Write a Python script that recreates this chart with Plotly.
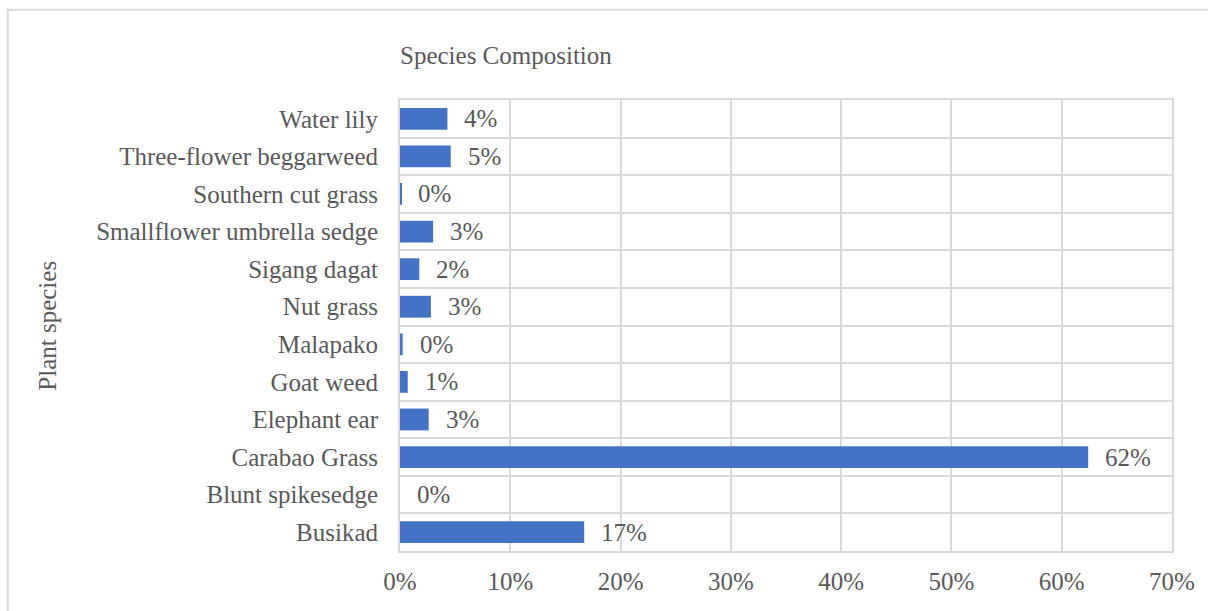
import plotly.graph_objects as go

categories = ["Busikad", "Blunt spikesedge", "Carabao Grass", "Elephant ear", "Goat weed",
              "Malapako", "Nut grass", "Sigang dagat", "Smallflower umbrella sedge",
              "Southern cut grass", "Three-flower beggarweed", "Water lily"]
shares = [0.167, 0.0, 0.624, 0.026, 0.007, 0.0024, 0.028, 0.0175, 0.030, 0.0012, 0.046, 0.043]
x_ticks = [0, 0.1, 0.2, 0.3, 0.4, 0.5, 0.6, 0.7]
x_tick_labels = ["0%", "10%", "20%", "30%", "40%", "50%", "60%", "70%"]

FONT = "Liberation Serif, Times New Roman, serif"
TXT = "#595959"
GRID = "#d9d9d9"
FS = 25

fig = go.Figure(go.Bar(
    x=shares, y=categories, orientation="h",
    marker=dict(color="#4472C4", line=dict(width=0)),
    width=0.58,
))

for v, c in zip(shares, categories):
    fig.add_annotation(x=v, y=c, xref="x", yref="y", text=f"{round(v * 100)}%",
                       showarrow=False, xanchor="left", yanchor="middle", xshift=15,
                       font=dict(family=FONT, size=FS, color=TXT))

fig.add_annotation(x=-0.457, y=0.5, xref="paper", yref="paper", text="Plant species",
                   textangle=-90, showarrow=False, xanchor="center", yanchor="middle",
                   font=dict(family=FONT, size=FS, color=TXT))

fig.add_shape(type="rect", xref="paper", yref="paper", x0=-0.508, x1=1.2, y0=-0.3, y1=1.2,
              line=dict(color=GRID, width=2), fillcolor="rgba(0,0,0,0)", layer="below")

fig.update_layout(
    width=1208, height=611,
    margin=dict(l=400, r=36, t=100, b=60),
    paper_bgcolor="white", plot_bgcolor="white",
    showlegend=False,
    title=dict(text="Species Composition", x=400 / 1208, xanchor="left", xref="container",
               y=1 - 55 / 611, yanchor="middle", yref="container",
               font=dict(family=FONT, size=FS, color=TXT)),
    xaxis=dict(range=[0, 0.7], tickvals=x_ticks, ticktext=x_tick_labels,
               showgrid=True, gridcolor=GRID, gridwidth=2, zeroline=False,
               showline=True, linecolor=GRID, linewidth=2, mirror=True,
               ticks="", ticklabelstandoff=7,
               tickfont=dict(family=FONT, size=FS, color=TXT)),
    yaxis=dict(type="category", categoryorder="array", categoryarray=categories,
               tickson="boundaries", showgrid=True, gridcolor=GRID, gridwidth=2,
               showline=True, linecolor=GRID, linewidth=2, mirror=True,
               ticks="", ticklabelstandoff=15,
               tickfont=dict(family=FONT, size=FS, color=TXT)),
)

fig.write_html("out.html")
